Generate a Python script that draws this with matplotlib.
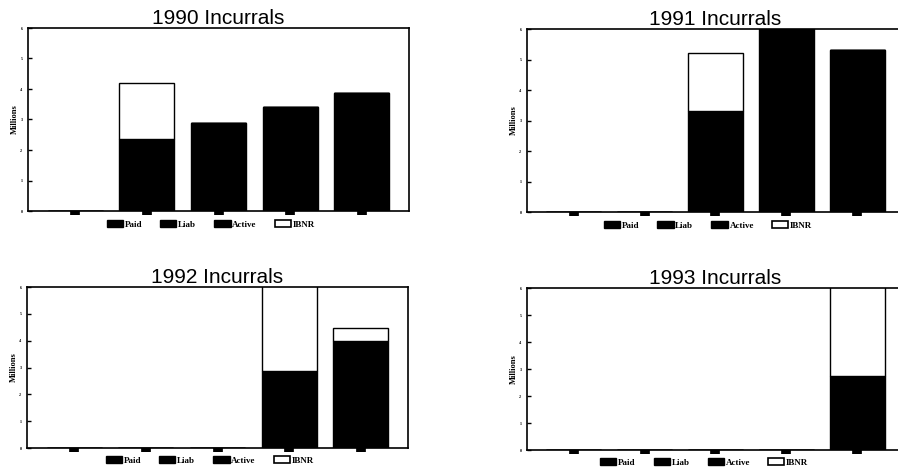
import matplotlib
matplotlib.use("Agg")
import matplotlib.pyplot as plt
from matplotlib.patches import Patch

# ---- data (millions) ----
categories = ["1", "2", "3", "4", "5"]
years = ["1990", "1991", "1992", "1993"]
# Paid, Liab and Active are all drawn solid black in the source, so the black
# height is carried in "paid"; liab/active are not separable in the picture.
paid = {
    "1990": [0, 2.35, 2.9, 3.4, 3.86],
    "1991": [0, 0, 3.3, 6.6, 5.3],
    "1992": [0, 0, 0, 2.86, 4.0],
    "1993": [0, 0, 0, 0, 2.74],
}
liab = {y: [0, 0, 0, 0, 0] for y in years}
active = {y: [0, 0, 0, 0, 0] for y in years}
ibnr = {
    "1990": [0, 1.84, 0, 0, 0],
    "1991": [0, 0, 1.92, 0, 0],
    "1992": [0, 0, 0, 3.8, 0.47],
    "1993": [0, 0, 0, 0, 3.9],
}
yticks = [0, 1, 2, 3, 4, 5, 6]
legend_labels = ["Paid", "Liab", "Active", "IBNR"]

W, H = 898, 469
fig = plt.figure(figsize=(W / 100, H / 100), dpi=100)

# axes boxes in pixels: left, top, right, bottom
boxes = {
    "1990": (28, 28, 409, 211),
    "1991": (527, 29, 904, 212),
    "1992": (27, 287, 408, 448),
    "1993": (527, 288, 904, 450),
}
legend_anchor = {"1990": 0.48, "1991": 0.48, "1992": 0.48, "1993": 0.47}

for yr in years:
    l, t, r, b = boxes[yr]
    ax = fig.add_axes([l / W, 1 - b / H, (r - l) / W, (b - t) / H])
    x = list(range(len(categories)))
    bw = 0.77
    bottom = [0] * len(x)
    for series, color in ((paid, "black"), (liab, "black"), (active, "black"), (ibnr, "white")):
        vals = series[yr]
        ax.bar(x, vals, bw, bottom=bottom, color=color, edgecolor="black", linewidth=1.0)
        bottom = [bb + v for bb, v in zip(bottom, vals)]
    ax.set_xlim(-0.66, len(x) - 1 + 0.66)
    ax.set_ylim(0, 6)
    ax.set_yticks(yticks)
    ax.set_yticklabels([str(v) for v in yticks], fontsize=3, fontweight="bold",
                       family="Liberation Serif")
    ax.set_xticks(x)
    ax.set_xticklabels([""] * len(x))
    ax.tick_params(axis="y", direction="in", length=3, width=1, pad=4)
    ax.tick_params(axis="x", direction="out", length=3, width=7, color="black")
    for s in ax.spines.values():
        s.set_linewidth(1.2)
        s.set_color("black")
    ax.set_title(f"{yr} Incurrals", fontsize=15, family="Liberation Sans", pad=-3)
    ax.set_ylabel("Millions", fontsize=6, fontweight="bold", family="Liberation Serif",
                  labelpad=1)
    handles = [Patch(facecolor="black", edgecolor="black"),
               Patch(facecolor="black", edgecolor="black"),
               Patch(facecolor="black", edgecolor="black"),
               Patch(facecolor="white", edgecolor="black", linewidth=1.2)]
    ax.legend(handles, legend_labels, loc="upper center",
              bbox_to_anchor=(legend_anchor[yr], -0.03), ncol=4, frameon=False,
              prop={"family": "Liberation Serif", "size": 6.5, "weight": "bold"},
              handlelength=1.8, handleheight=0.75, handletextpad=0.2,
              columnspacing=2.0, borderaxespad=0)

fig.savefig("out.png", dpi=100)
